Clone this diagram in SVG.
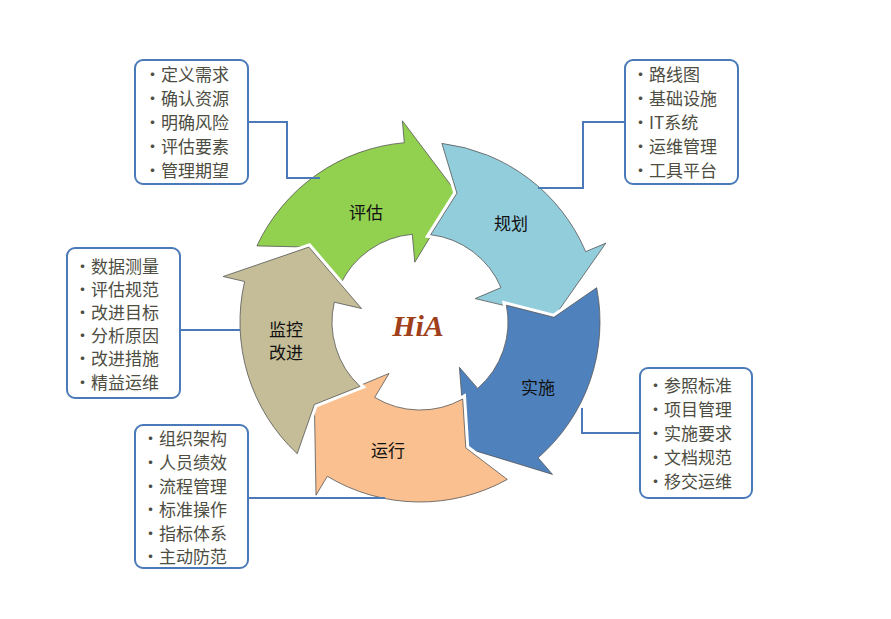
<svg xmlns="http://www.w3.org/2000/svg" width="891" height="619" viewBox="0 0 891 619">
<style>
.gap{fill:none;stroke:#fff;stroke-width:7;stroke-linejoin:miter}
.ar{stroke:#555;stroke-width:0.8}
.lbl{font-family:"Noto Sans CJK SC",sans-serif;font-size:17px;fill:#111;text-anchor:middle}
.box{fill:#fff;stroke:#4a7ab8;stroke-width:2}
.bt{font-family:"Noto Sans CJK SC",sans-serif;font-size:17px;fill:#4d4d42}
.con{fill:none;stroke:#4a7ab8;stroke-width:2}
</style>
<rect width="891" height="619" fill="#fff"/>
<g id="cycle">
<g id="n-pinggu">
<path class="gap" d="M256.9,245.9 A180,180 0 0 1 404.3,142.7 L402.4,120.8 L456.9,193.2 L414.8,262.2 L412.3,234.3 A88,88 0 0 0 340.2,284.8 L308.9,247.1 Z"/>
<path class="ar" fill="#92d050" d="M256.9,245.9 A180,180 0 0 1 404.3,142.7 L402.4,120.8 L456.9,193.2 L414.8,262.2 L412.3,234.3 A88,88 0 0 0 340.2,284.8 L308.9,247.1 Z"/>
<text class="lbl" x="366" y="219">评估</text>
</g>
<g id="n-guihua">
<path class="gap" d="M441.9,143.4 A180,180 0 0 1 585.7,251.7 L605.9,243.1 L553.9,317.3 L475.2,298.6 L501.0,287.6 A88,88 0 0 0 430.7,234.7 L456.9,193.2 Z"/>
<path class="ar" fill="#92cddc" d="M441.9,143.4 A180,180 0 0 1 585.7,251.7 L605.9,243.1 L553.9,317.3 L475.2,298.6 L501.0,287.6 A88,88 0 0 0 430.7,234.7 L456.9,193.2 Z"/>
<text class="lbl" x="511" y="230">规划</text>
</g>
<g id="n-shishi">
<path class="gap" d="M596.7,287.7 A180,180 0 0 1 538.1,457.8 L552.5,474.4 L465.8,447.9 L459.4,367.3 L477.7,388.4 A88,88 0 0 0 506.4,305.2 L553.9,317.3 Z"/>
<path class="ar" fill="#4f81bd" d="M596.7,287.7 A180,180 0 0 1 538.1,457.8 L552.5,474.4 L465.8,447.9 L459.4,367.3 L477.7,388.4 A88,88 0 0 0 506.4,305.2 L553.9,317.3 Z"/>
<text class="lbl" x="538" y="394">实施</text>
</g>
<g id="n-yunxing">
<path class="gap" d="M507.3,479.4 A180,180 0 0 1 327.3,476.3 L316.0,495.2 L314.4,404.5 L389.1,373.4 L374.7,397.4 A88,88 0 0 0 462.7,399.0 L465.8,447.9 Z"/>
<path class="ar" fill="#fac090" d="M507.3,479.4 A180,180 0 0 1 327.3,476.3 L316.0,495.2 L314.4,404.5 L389.1,373.4 L374.7,397.4 A88,88 0 0 0 462.7,399.0 L465.8,447.9 Z"/>
<text class="lbl" x="388" y="457">运行</text>
</g>
<g id="n-jiankong">
<path class="gap" d="M297.2,453.7 A180,180 0 0 1 244.6,281.5 L223.2,276.5 L308.9,247.1 L361.5,308.5 L334.3,302.2 A88,88 0 0 0 360.0,386.4 L314.4,404.5 Z"/>
<path class="ar" fill="#c4bd97" d="M297.2,453.7 A180,180 0 0 1 244.6,281.5 L223.2,276.5 L308.9,247.1 L361.5,308.5 L334.3,302.2 A88,88 0 0 0 360.0,386.4 L314.4,404.5 Z"/>
<text class="lbl" x="286" y="336">监控</text>
<text class="lbl" x="286" y="359">改进</text>
</g>
<text id="logo" x="418" y="336" text-anchor="middle" font-family="Liberation Serif,serif" font-style="italic" font-weight="bold" font-size="30" fill="#a0401a">HiA</text>
</g>
<g id="connectors">
<path class="con" d="M248,122 H287 V178 H320"/>
<path class="con" d="M625,122 H583 V188 H538"/>
<path class="con" d="M180,330 H240"/>
<path class="con" d="M248,498 H385"/>
<path class="con" d="M640,433 H582 V408"/>
</g>
<g id="box-pinggu">
<rect class="box" x="135" y="60" width="113" height="124" rx="8"/>
<text class="bt" x="144" y="81">•定义需求</text>
<text class="bt" x="144" y="105">•确认资源</text>
<text class="bt" x="144" y="129">•明确风险</text>
<text class="bt" x="144" y="153">•评估要素</text>
<text class="bt" x="144" y="177">•管理期望</text>
</g>
<g id="box-guihua">
<rect class="box" x="625" y="60" width="113" height="124" rx="8"/>
<text class="bt" x="632" y="81">•路线图</text>
<text class="bt" x="632" y="105">•基础设施</text>
<text class="bt" x="632" y="129">•IT系统</text>
<text class="bt" x="632" y="153">•运维管理</text>
<text class="bt" x="632" y="177">•工具平台</text>
</g>
<g id="box-jiankong">
<rect class="box" x="67" y="248" width="113" height="150" rx="8"/>
<text class="bt" x="74" y="273">•数据测量</text>
<text class="bt" x="74" y="296">•评估规范</text>
<text class="bt" x="74" y="319">•改进目标</text>
<text class="bt" x="74" y="342">•分析原因</text>
<text class="bt" x="74" y="365">•改进措施</text>
<text class="bt" x="74" y="389">•精益运维</text>
</g>
<g id="box-yunxing">
<rect class="box" x="135" y="425" width="113" height="143" rx="8"/>
<text class="bt" x="142" y="445">•组织架构</text>
<text class="bt" x="142" y="469">•人员绩效</text>
<text class="bt" x="142" y="493">•流程管理</text>
<text class="bt" x="142" y="516">•标准操作</text>
<text class="bt" x="142" y="540">•指标体系</text>
<text class="bt" x="142" y="563">•主动防范</text>
</g>
<g id="box-shishi">
<rect class="box" x="640" y="368" width="112" height="130" rx="8"/>
<text class="bt" x="647" y="392">•参照标准</text>
<text class="bt" x="647" y="416">•项目管理</text>
<text class="bt" x="647" y="440">•实施要求</text>
<text class="bt" x="647" y="464">•文档规范</text>
<text class="bt" x="647" y="488">•移交运维</text>
</g>
</svg>
